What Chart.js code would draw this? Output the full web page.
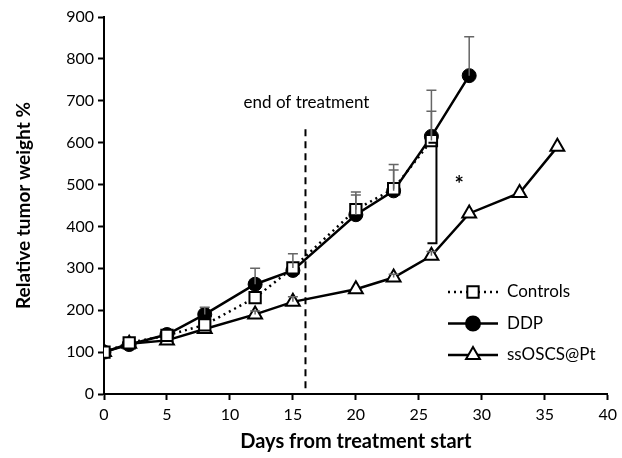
<!DOCTYPE html>
<html>
<head>
<meta charset="utf-8">
<script src="https://cdn.jsdelivr.net/npm/chart.js@4.4.1/dist/chart.umd.min.js"></script>
<style>
  html, body { margin: 0; padding: 0; background: #fff; }
  #wrap { width: 622px; height: 458px; }
</style>
</head>
<body>
<div id="wrap"><canvas id="chart" width="622" height="458"></canvas></div>
<script>
// data
var controlDays = [0, 2, 5, 8, 12, 15, 20, 23, 26];
var controlVals = [100, 122, 140, 165, 230, 301, 440, 490, 605];
var controlErr  = [0, 0, 0, 0, 0, 34, 42, 58, 70];

var ddpDays = [0, 2, 5, 8, 12, 15, 20, 23, 26, 29];
var ddpVals = [100, 118, 142, 190, 262, 295, 428, 485, 615, 760];
var ddpErr  = [0, 0, 0, 17, 38, 0, 47, 50, 110, 93];

var ptDays = [0, 2, 5, 8, 12, 15, 20, 23, 26, 29, 33, 36];
var ptVals = [100, 120, 128, 155, 190, 220, 250, 278, 330, 431, 480, 590];
var ptErr  = [0, 0, 0, 0, 8, 12, 0, 8, 10, 0, 0, 0];

var seriesNames = ["Controls", "DDP", "ssOSCS@Pt"];
var treatmentEnd = 16;
var treatmentLineTop = 632;
var sigBracket = { day: 26.4, from: 360, to: 600 };
var FONT = "Lato, 'Open Sans', sans-serif";

function pts(days, vals) {
	return days.map(function (d, i) { return { x: d, y: vals[i] }; });
}

// error bars, treatment line, significance bracket, custom legend
var extras = {
	id: "extras",
	afterDatasetsDraw: function (chart) {
		var ctx = chart.ctx, xs = chart.scales.x, ys = chart.scales.y;
		var errSets = [controlErr, ddpErr, ptErr];
		ctx.save();
		ctx.strokeStyle = "#666";
		ctx.lineWidth = 1.5;
		chart.data.datasets.forEach(function (ds, k) {
			ds.data.forEach(function (p, i) {
				var e = errSets[k][i];
				if (!e) return;
				var px = xs.getPixelForValue(p.x);
				var y0 = ys.getPixelForValue(p.y), y1 = ys.getPixelForValue(p.y + e);
				ctx.beginPath();
				ctx.moveTo(px, y0); ctx.lineTo(px, y1);
				ctx.moveTo(px - 5, y1); ctx.lineTo(px + 5, y1);
				ctx.stroke();
			});
		});
		ctx.restore();

		// end of treatment line
		ctx.save();
		var tx = xs.getPixelForValue(treatmentEnd);
		ctx.strokeStyle = "#000";
		ctx.lineWidth = 2;
		ctx.setLineDash([7, 5]);
		ctx.beginPath();
		ctx.moveTo(tx, ys.getPixelForValue(treatmentLineTop));
		ctx.lineTo(tx, ys.getPixelForValue(0));
		ctx.stroke();
		ctx.setLineDash([]);
		ctx.fillStyle = "#000";
		ctx.font = "17px " + FONT;
		ctx.textAlign = "center";
		ctx.textBaseline = "middle";
		ctx.fillText("end of treatment", tx + 1, 103);

		// bracket
		var bx = xs.getPixelForValue(sigBracket.day);
		var by0 = ys.getPixelForValue(sigBracket.from), by1 = ys.getPixelForValue(sigBracket.to);
		ctx.lineWidth = 2;
		ctx.beginPath();
		ctx.moveTo(bx - 8, by1); ctx.lineTo(bx, by1);
		ctx.lineTo(bx, by0); ctx.lineTo(bx - 9, by0);
		ctx.stroke();
		ctx.font = "bold 22px " + FONT;
		ctx.fillText("*", xs.getPixelForValue(28.2), ys.getPixelForValue(500));

		// legend
		var styles = chart.data.datasets;
		var lx = 448, lw = 50;
		seriesNames.forEach(function (name, i) {
			var ly = 292 + i * 31.5;
			var ds = styles[i];
			ctx.strokeStyle = "#000";
			ctx.lineWidth = 2.5;
			ctx.setLineDash(ds.borderDash || []);
			ctx.beginPath();
			ctx.moveTo(lx, ly); ctx.lineTo(lx + lw, ly);
			ctx.stroke();
			ctx.setLineDash([]);
			ctx.fillStyle = ds.pointBackgroundColor;
			ctx.strokeStyle = ds.pointBorderColor;
			ctx.lineWidth = 2;
			Chart.helpers.drawPoint(ctx, {
				pointStyle: ds.pointStyle, radius: ds.pointRadius, borderWidth: 2
			}, lx + lw / 2, ly);
			ctx.fillStyle = "#000";
			ctx.font = "17px " + FONT;
			ctx.textAlign = "left";
			ctx.fillText(name, lx + lw + 9, ly);
		});
		ctx.restore();
	}
};

var chart = new Chart(document.getElementById("chart"), {
	type: "line",
	data: {
		datasets: [
			{
				label: seriesNames[0],
				data: pts(controlDays, controlVals),
				borderColor: "#000",
				borderWidth: 2.5,
				borderDash: [2, 4],
				pointStyle: "rect",
				pointRadius: 8,
				pointBorderWidth: 2,
				pointBackgroundColor: "#fff",
				pointBorderColor: "#000"
			},
			{
				label: seriesNames[1],
				data: pts(ddpDays, ddpVals),
				borderColor: "#000",
				borderWidth: 2.5,
				pointStyle: "circle",
				pointRadius: 7,
				pointBorderWidth: 1,
				pointBackgroundColor: "#000",
				pointBorderColor: "#000"
			},
			{
				label: seriesNames[2],
				data: pts(ptDays, ptVals),
				borderColor: "#000",
				borderWidth: 2.5,
				pointStyle: "triangle",
				pointRadius: 8,
				pointBorderWidth: 2,
				pointBackgroundColor: "#fff",
				pointBorderColor: "#000"
			}
		]
	},
	options: {
		responsive: false,
		animation: false,
		layout: { padding: { top: 17, right: 0, left: 8, bottom: 0 } },
		plugins: { legend: { display: false }, tooltip: { enabled: false } },
		scales: {
			x: {
				type: "linear",
				min: 0, max: 40,
				ticks: { stepSize: 5, color: "#000", font: { size: 16, family: FONT }, padding: 5 },
				grid: { drawOnChartArea: false, color: "#000", tickLength: 6, tickWidth: 2 },
				border: { color: "#000", width: 2 },
				title: { display: true, text: "Days from treatment start", color: "#000",
					font: { size: 20, weight: "bold", family: FONT }, padding: { top: 6 } },
				afterFit: function (s) { s.height = 64; }
			},
			y: {
				min: 0, max: 900,
				ticks: { stepSize: 100, color: "#000", font: { size: 16, family: FONT }, padding: 4 },
				grid: { drawOnChartArea: false, color: "#000", tickLength: 6, tickWidth: 2 },
				border: { color: "#000", width: 2 },
				title: { display: true, text: "Relative tumor weight %", color: "#000",
					font: { size: 19, weight: "bold", family: FONT }, padding: { bottom: 6 } },
				afterFit: function (s) { s.width = 96; }
			}
		}
	},
	plugins: [extras]
});
</script>
</body>
</html>
